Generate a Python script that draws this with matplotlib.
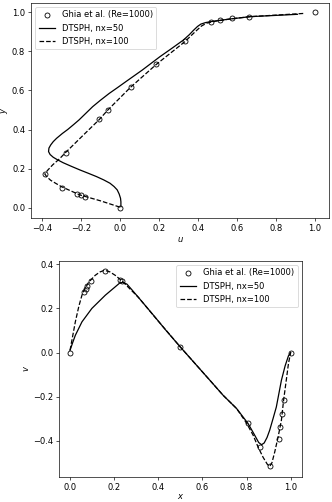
import matplotlib
matplotlib.use('Agg')
import matplotlib.pyplot as plt

# Ghia et al. (1982), Re=1000
ghia_y = [1.0, 0.9766, 0.9688, 0.9609, 0.9531, 0.8516, 0.7344, 0.6172, 0.5,
          0.4531, 0.2813, 0.1719, 0.1016, 0.0703, 0.0625, 0.0547, 0.0]
ghia_u = [1.0, 0.65928, 0.57492, 0.51117, 0.46604, 0.33304, 0.18719, 0.05702,
          -0.0608, -0.10648, -0.27805, -0.38289, -0.2973, -0.2222, -0.20196,
          -0.18109, 0.0]
ghia_x = [1.0, 0.9688, 0.9609, 0.9531, 0.9453, 0.9063, 0.8594, 0.8047, 0.5,
          0.2344, 0.2266, 0.1563, 0.0938, 0.0781, 0.0703, 0.0625, 0.0]
ghia_v = [0.0, -0.21388, -0.27669, -0.33714, -0.39188, -0.5155, -0.42665,
          -0.31966, 0.02526, 0.32235, 0.33075, 0.37095, 0.32627, 0.30353,
          0.29012, 0.27485, 0.0]

# DTSPH, nx=50 (u along vertical centreline)
y50 = [0.005, 0.03, 0.048, 0.07, 0.091, 0.108, 0.125, 0.142, 0.159, 0.176,
       0.193, 0.212, 0.23, 0.245, 0.258, 0.272, 0.287, 0.305, 0.321, 0.338,
       0.355, 0.38, 0.4, 0.425, 0.449, 0.483, 0.517, 0.55, 0.585, 0.615, 0.645,
       0.705, 0.773, 0.815, 0.858, 0.885, 0.909, 0.928, 0.94, 0.948, 0.954,
       0.96, 0.966, 0.978, 0.99]
u50 = [0.005, 0.005, 0.003, -0.004, -0.014, -0.03, -0.051, -0.083, -0.12,
       -0.162, -0.205, -0.25, -0.291, -0.32, -0.342, -0.358, -0.366, -0.364,
       -0.355, -0.342, -0.325, -0.295, -0.268, -0.238, -0.21, -0.175, -0.14,
       -0.1, -0.055, -0.012, 0.03, 0.115, 0.205, 0.265, 0.325, 0.355, 0.378,
       0.398, 0.415, 0.44, 0.475, 0.52, 0.564, 0.667, 0.91]

# DTSPH, nx=100
y100 = [0.0025, 0.035, 0.065, 0.085, 0.107, 0.125, 0.14, 0.158, 0.172, 0.19,
        0.219, 0.25, 0.283, 0.33, 0.381, 0.449, 0.5, 0.617, 0.734, 0.85, 0.9,
        0.93, 0.945, 0.955, 0.966, 0.978, 0.995]
u100 = [0.0, -0.1, -0.205, -0.25, -0.299, -0.33, -0.355, -0.375, -0.385,
        -0.372, -0.345, -0.31, -0.278, -0.23, -0.178, -0.108, -0.062, 0.055,
        0.187, 0.333, 0.385, 0.418, 0.445, 0.49, 0.564, 0.667, 0.95]

# DTSPH v along horizontal centreline
x50 = [0.0, 0.012, 0.024, 0.054, 0.099, 0.16, 0.205, 0.225, 0.24, 0.258, 0.28,
       0.31, 0.385, 0.431, 0.5, 0.634, 0.694, 0.755, 0.807, 0.837, 0.855,
       0.868, 0.88, 0.893, 0.905, 0.92, 0.935, 0.958, 0.975, 0.99, 1.0]
v50 = [0.01, 0.045, 0.078, 0.139, 0.2, 0.26, 0.298, 0.315, 0.318, 0.31, 0.285,
       0.25, 0.161, 0.105, 0.025, -0.126, -0.194, -0.254, -0.322, -0.375,
       -0.408, -0.418, -0.41, -0.385, -0.352, -0.3, -0.247, -0.126, -0.06,
       -0.015, 0.0]
x100 = [0.0, 0.024, 0.04, 0.054, 0.0625, 0.084, 0.114, 0.135, 0.156, 0.18,
        0.205, 0.235, 0.31, 0.385, 0.5, 0.634, 0.694, 0.755, 0.8, 0.83, 0.852,
        0.875, 0.895, 0.905, 0.915, 0.928, 0.943, 0.958, 0.968, 0.98, 0.99,
        1.0]
v100 = [0.01, 0.139, 0.21, 0.26, 0.28, 0.318, 0.35, 0.365, 0.373, 0.366, 0.35,
        0.325, 0.25, 0.16, 0.025, -0.126, -0.194, -0.254, -0.32, -0.375,
        -0.428, -0.475, -0.508, -0.516, -0.5, -0.45, -0.383, -0.307, -0.216,
        -0.126, -0.05, 0.0]

fig = plt.figure(figsize=(332/60, 502/60), dpi=60)

ax1 = fig.add_axes([31/332, 1-218/502, 298/332, 215/502])
ax1.plot(ghia_u, ghia_y, 'o', mfc='none', mec='k', label='Ghia et al. (Re=1000)')
ax1.plot(u50, y50, 'k-', label='DTSPH, nx=50')
ax1.plot(u100, y100, 'k--', label='DTSPH, nx=100')
ax1.set_xlim(-0.456, 1.072)
ax1.set_ylim(-0.053, 1.048)
ax1.set_xlabel('$u$', labelpad=2)
ax1.set_ylabel('$y$', labelpad=2)
ax1.legend(loc='upper left')

ax2 = fig.add_axes([59/332, 1-476.7/502, 242.7/332, 215.7/502])
ax2.plot(ghia_x, ghia_v, 'o', mfc='none', mec='k', label='Ghia et al. (Re=1000)')
ax2.plot(x50, v50, 'k-', label='DTSPH, nx=50')
ax2.plot(x100, v100, 'k--', label='DTSPH, nx=100')
ax2.set_xlim(-0.05, 1.05)
ax2.set_ylim(-0.563, 0.415)
ax2.set_xlabel('$x$', labelpad=1)
ax2.set_ylabel('$v$', labelpad=2)
ax2.legend(loc='upper right')

fig.savefig('out.png', dpi=60)
